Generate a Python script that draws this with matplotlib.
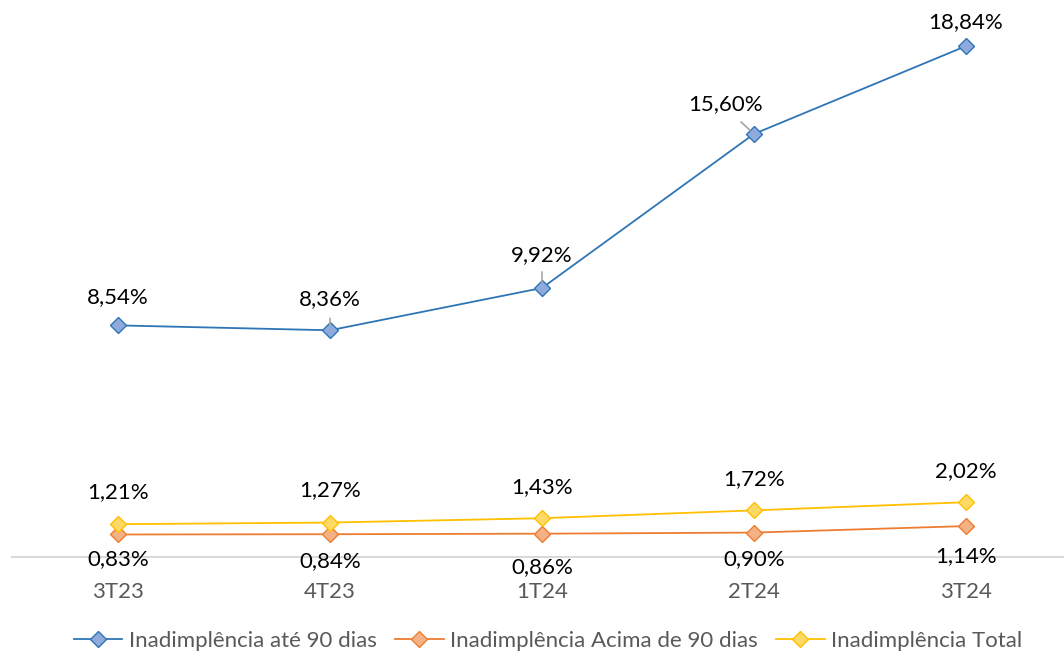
import matplotlib
matplotlib.use("Agg")
import matplotlib.pyplot as plt
from matplotlib.lines import Line2D

plt.rcParams['font.family'] = ['Lato', 'DejaVu Sans']

categories = ["3T23", "4T23", "1T24", "2T24", "3T24"]
ate90 = [8.54, 8.36, 9.92, 15.60, 18.84]
acima90 = [0.83, 0.84, 0.86, 0.90, 1.14]
total = [1.21, 1.27, 1.43, 1.72, 2.02]
series_names = ["Inadimplência até 90 dias", "Inadimplência Acima de 90 dias", "Inadimplência Total"]

W, H = 1064, 656
fig = plt.figure(figsize=(W / 100, H / 100), dpi=100)
ax = fig.add_axes([12 / W, (H - 557) / H, 1060 / W, 542.4 / H])
ax.set_xlim(-0.5, 4.5)
ax.set_ylim(0, 20)

x = list(range(len(categories)))
styles = [
    dict(color="#2E75B6", mfc="#8FAADC", mec="#2E75B6"),
    dict(color="#ED7D31", mfc="#F4B183", mec="#ED7D31"),
    dict(color="#FFC000", mfc="#FFD966", mec="#FFC000"),
]
data = [ate90, acima90, total]
for vals, st in zip(data, styles):
    ax.plot(x, vals, color=st["color"], lw=1.3, marker="D", ms=8,
            mfc=st["mfc"], mec=st["mec"], mew=1.0, zorder=3)

def fmt(v):
    return f"{v:.2f}".replace(".", ",") + "%"

FS = 16
txtkw = dict(fontsize=FS, color="#000000", ha="center", va="center")
blue_off = [(0, 28), (0, 31), (0, 33), (-28, 30), (0, 24)]
for i, v in enumerate(ate90):
    dx, dy = blue_off[i]
    ax.annotate(fmt(v), (i, v), xytext=(dx * 0.72, dy * 0.72), textcoords="offset points", **txtkw)
leaders = [(1, (0, 12)), (2, (0, 16)), (3, (-13, 12))]
for i, (dx, dy) in leaders:
    ax.annotate("", (i, ate90[i]), xytext=(dx * 0.72, dy * 0.72), textcoords="offset points",
                arrowprops=dict(arrowstyle="-", color="#A6A6A6", lw=1.2, shrinkA=0, shrinkB=4))
tot_off = [32, 32, 31, 31, 31]
for i, v in enumerate(total):
    ax.annotate(fmt(v), (i, v), xytext=(0, tot_off[i] * 0.72), textcoords="offset points", **txtkw)
ac_off = [-25, -27, -33, -27, -30]
for i, v in enumerate(acima90):
    ax.annotate(fmt(v), (i, v), xytext=(0, ac_off[i] * 0.72), textcoords="offset points", **txtkw)

for s in ["top", "right", "left"]:
    ax.spines[s].set_visible(False)
ax.spines["bottom"].set_color("#D9D9D9")
ax.spines["bottom"].set_linewidth(1.5)
ax.set_yticks([])
ax.set_xticks(x)
ax.set_xticklabels(categories, fontsize=FS, color="#595959")
ax.tick_params(axis="x", length=0, pad=18)

handles = [Line2D([0], [0], color=st["color"], lw=1.3, marker="D", ms=8,
                  mfc=st["mfc"], mec=st["mec"]) for st in styles]
leg = fig.legend(handles, series_names, loc="center", ncol=3, frameon=False,
                 bbox_to_anchor=(548 / W, 1 - 641 / H), fontsize=FS, handlelength=2.2,
                 columnspacing=0.8, handletextpad=0.3)
for t in leg.get_texts():
    t.set_color("#595959")

fig.savefig("out.png", dpi=100)
